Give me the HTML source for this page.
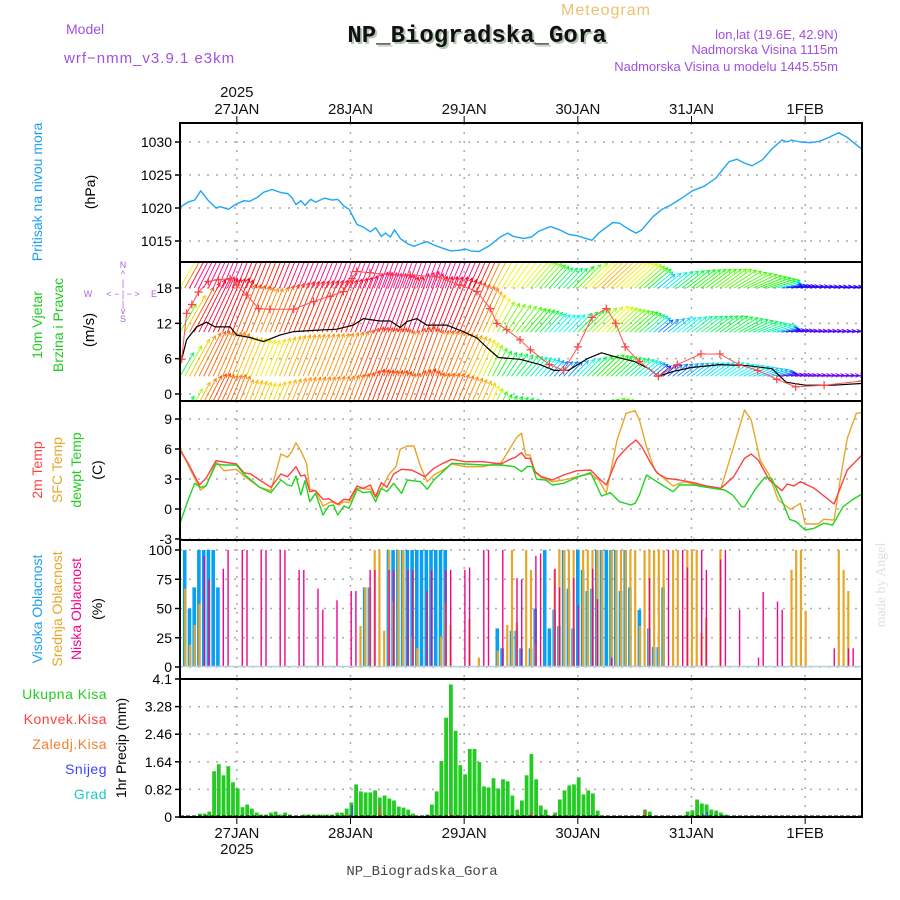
<!DOCTYPE html>
<html><head><meta charset="utf-8"><style>
html,body{margin:0;padding:0;background:#fff;}
svg{display:block;font-family:"Liberation Sans",sans-serif;}
</style></head><body>
<svg id="chart" width="900" height="900" viewBox="0 0 900 900" xmlns="http://www.w3.org/2000/svg">
<defs>
<clipPath id="clipWind"><rect x="181" y="263" width="680" height="137"/></clipPath>
<clipPath id="clipAll"><rect x="181" y="123" width="680" height="694"/></clipPath>
</defs>
<rect x="0" y="0" width="900" height="900" fill="#fff"/>
<g>
<text x="606" y="15" font-size="16" fill="#f0c070" text-anchor="middle" letter-spacing="1">Meteogram</text>
<text x="66" y="34" font-size="14" fill="#a050e0">Model</text>
<text x="64" y="63" font-size="15" fill="#a050e0" letter-spacing="1">wrf−nmm_v3.9.1 e3km</text>
<text x="479" y="44" font-size="24" font-weight="bold" font-family="Liberation Mono, monospace" fill="#b0c8b0" text-anchor="middle">NP_Biogradska_Gora</text>
<text x="477" y="42" font-size="24" font-weight="bold" font-family="Liberation Mono, monospace" fill="#111" text-anchor="middle">NP_Biogradska_Gora</text>
<text x="838" y="39" font-size="13" fill="#a050e0" text-anchor="end">lon,lat (19.6E, 42.9N)</text>
<text x="838" y="54" font-size="13" fill="#a050e0" text-anchor="end">Nadmorska Visina 1115m</text>
<text x="838" y="71" font-size="13" fill="#a050e0" text-anchor="end">Nadmorska Visina u modelu 1445.55m</text>
</g>
<g id="grid"></g>
<g id="marks" clip-path="url(#clipAll)"></g>
<g id="wind" clip-path="url(#clipWind)"></g>
<g id="frames"></g>
<g id="labels">
<text transform="translate(42,192) rotate(-90)" font-size="14" fill="#1ea0f0" text-anchor="middle">Pritisak na nivou mora</text>
<text transform="translate(95,192) rotate(-90)" font-size="14" fill="#000" text-anchor="middle">(hPa)</text>
<text transform="translate(42,325) rotate(-90)" font-size="14" fill="#22cc22" text-anchor="middle">10m Vjetar</text>
<text transform="translate(63,325) rotate(-90)" font-size="14" fill="#22cc22" text-anchor="middle">Brzina i Pravac</text>
<text transform="translate(94,330) rotate(-90)" font-size="15" fill="#000" text-anchor="middle">(m/s)</text>
<g font-size="9" fill="#b060e0" text-anchor="middle">
<text x="123" y="268">N</text><text x="123" y="277">^</text><text x="123" y="286">|</text>
<text x="88" y="297">W</text><text x="123" y="297">&lt; − | − &gt;</text><text x="154" y="297">E</text>
<text x="123" y="307">|</text><text x="123" y="314">v</text><text x="123" y="322">S</text>
</g>
<text transform="translate(42,470) rotate(-90)" font-size="14" fill="#ff4040" text-anchor="middle">2m Temp</text>
<text transform="translate(62,470) rotate(-90)" font-size="14" fill="#e8a628" text-anchor="middle">SFC Temp</text>
<text transform="translate(81,470) rotate(-90)" font-size="14" fill="#22cc22" text-anchor="middle">dewpt Temp</text>
<text transform="translate(102,470) rotate(-90)" font-size="14" fill="#000" text-anchor="middle">(C)</text>
<text transform="translate(42,609) rotate(-90)" font-size="14" fill="#1ea0f0" text-anchor="middle">Visoka Oblacnost</text>
<text transform="translate(62,609) rotate(-90)" font-size="14" fill="#e8a628" text-anchor="middle">Srednja Oblacnost</text>
<text transform="translate(81,609) rotate(-90)" font-size="14" fill="#f0068c" text-anchor="middle">Niska Oblacnost</text>
<text transform="translate(102,609) rotate(-90)" font-size="14" fill="#000" text-anchor="middle">(%)</text>
<g font-size="14" text-anchor="end" letter-spacing="0.5">
<text x="107" y="699" fill="#22cc22">Ukupna Kisa</text>
<text x="107" y="724" fill="#ff4040">Konvek.Kisa</text>
<text x="107" y="749" fill="#f08030">Zaledj.Kisa</text>
<text x="107" y="774" fill="#4040ff">Snijeg</text>
<text x="107" y="799" fill="#20c8c8">Grad</text>
</g>
<text transform="translate(126,748) rotate(-90)" font-size="14" fill="#000" text-anchor="middle">1hr Precip (mm)</text>
<text transform="translate(885,585) rotate(-90)" font-size="14" font-family="Liberation Serif, serif" fill="#d8e4d8" text-anchor="middle">made by Angel</text>
<text x="422" y="875" font-size="14" font-family="Liberation Mono, monospace" fill="#444" text-anchor="middle">NP_Biogradska_Gora</text>
</g>
</svg>
<script>
const dayLabels=["27JAN","28JAN","29JAN","30JAN","31JAN","1FEB"];
const dayHours=[12,36,60,84,108,132];
const presTicks=[1015,1020,1025,1030];
const windTicks=[0,6,12,18];
const tempTicks=[-3,0,3,6,9];
const cloudTicks=[0,25,50,75,100];
const precipTicks=[0,0.82,1.64,2.46,3.28,4.1];
const precipTickLabels=["0","0.82","1.64","2.46","3.28","4.1"];

const presHours=[0,1.7,3.1,4.4,5.9,7.6,8.5,10.2,11.9,13.5,14.7,16.3,17.7,19.4,21.5,22.7,23.6,24.5,25.5,26.4,27.6,28.6,30.5,32.1,33.3,34.6,35.7,37.4,38.7,40.2,41.3,42.5,43.4,44.4,45.3,46.5,48,49.4,50.8,52.2,53.6,55.5,57.2,59.1,60.2,61.4,63.1,65.4,67.6,69.2,70.4,72.5,74.2,75.8,78.2,80.1,82.1,83.8,87,88.4,89.5,91.4,92.8,94.7,96.3,97.5,99.9,101.8,103.5,105.5,108.2,110.7,113.1,115.9,117.6,119.2,120.8,123,124.9,127.1,128.2,129.1,131,133.1,135,136.7,139.1,140.9,142.4,144];
const presVals=[1020.1,1020.9,1021.2,1022.6,1021.2,1020,1020.2,1019.8,1020.6,1021.1,1021,1021.6,1022.4,1022.8,1022.3,1022.2,1021.6,1020.5,1021.1,1020.4,1021.3,1020.9,1021.5,1021.2,1021.3,1020.3,1019.8,1017.5,1017.1,1016.4,1017,1015.7,1016.2,1015.6,1016.7,1015.4,1014.6,1014.2,1014.6,1014.9,1014.4,1013.9,1013.5,1013.6,1013.8,1013.5,1013.4,1014.3,1015.6,1016.2,1015.7,1015.4,1015.6,1016.5,1017.2,1016.7,1016,1015.8,1015.1,1016.2,1016.8,1017.8,1017.7,1016.8,1016.2,1016.7,1018.7,1019.8,1020.4,1021.3,1022.6,1023.3,1024.5,1027,1027.4,1026.8,1026.4,1027.3,1028.9,1030.3,1030,1030.3,1030,1029.9,1030.1,1030.6,1031.4,1030.7,1029.8,1028.9];

const windHours=[0.35,1.4,3.5,5.6,7.4,10.6,12,14.8,17.6,21.1,24,28.2,33.1,36.6,38.7,42.2,44.4,46.5,47.9,50,52.1,56.3,59.8,62.7,64.8,67.2,71.8,76,79,82,86,89,92,96,99,101,104,108,114,120,125,128,132,138,144];
const windVals=[5.9,9.2,11.4,12.2,11.4,11.4,10,9.6,8.9,10,10.6,10.8,11,11.7,12.8,12.4,12.4,11.3,12.3,12.8,11.7,11.7,10.6,9.5,7.9,6.2,5.9,5.0,4.0,4.0,6.0,7.0,6.3,5.5,4.3,3.0,3.8,4.5,5.0,4.8,4.3,2.0,1.5,1.5,1.8];
const gustHours=[0.35,1.4,2.5,3.9,6,8.1,10.6,12,14.1,16.6,19,24,28.2,31.7,34.5,36.3,37.3,40.1,44.4,48.6,54.2,59.1,62.7,65.5,66.9,69,71.8,74,78,81,84,87,90,92,94,97,101,105,110,114,118,122,126,130,136,144];
const gustVals=[5.9,13.7,15.2,17.3,19.1,19.4,19.6,18.5,16.8,14.5,14.4,14.4,15.7,16.6,17.4,19.6,20.8,20.6,20.2,20.2,19.9,18.5,17.4,14.5,12,10.9,9.2,7.5,5.0,4.0,8.0,13,14.5,12,8,5.5,3.0,5.0,6.8,6.8,5.0,4.0,2.5,1.2,1.5,2.2];
const dirHours=[0,10,30,50,65,72,85,100,115,128,144];
const dirVals=[30,22,22,20,25,40,45,50,55,80,85];

const t2Hours=[0,1.7,4.1,5.5,7.6,9.3,11.9,13.5,14.9,16.8,19.2,21.3,22.7,24.5,25.5,26.4,27.4,28.6,30.2,31.4,33.3,34.6,35.7,37.4,38.7,40.2,41.3,42.5,43.7,45.1,46.8,48.9,50.3,51.7,53.6,55.5,57.4,60.2,64,67.8,69.7,70.8,72.1,73,73.9,75,76.3,78.6,81,83.8,86.7,88.4,90,92.3,94.7,96.3,97.5,99.4,100.8,102.7,105.5,108.4,111.2,114.2,116.9,119.2,120.6,122.1,124.4,127.1,128.2,129.6,131,133.9,138.1,140.9,144];
const t2Vals=[5.9,4.57,2.4,3.07,4.83,4.7,4.5,3.63,3.5,2.9,2.17,3.5,3.23,4.23,3.3,3.4,1.73,1.83,0.97,1.03,0.47,0.97,0.9,2.3,2.07,2.4,1.23,2.63,2.17,3.5,3.97,3.9,3.57,3.23,4.07,4.57,4.97,4.73,4.73,4.5,4.97,5.17,5.63,5.07,5.07,3.73,3.23,2.9,3.4,3.83,3.9,3.07,2.4,5.07,6.3,6.9,6.23,4.57,3.57,3.07,2.9,2.63,2.3,2.07,3.23,5.07,5.5,4.9,2.9,1.83,2.5,2.3,2.73,2.07,0.5,3.9,5.4];
const sfcHours=[0,1.7,4.3,5.5,7.6,9.3,11.9,13.5,16.8,19.2,21.3,22.7,23.6,24.5,25.5,26.7,27.4,28.6,30.2,31.9,33.6,34.6,35.7,37.4,40.2,41.3,42.8,44.2,45.6,46.5,48,49.4,50.8,52.2,53.6,55.5,57.4,60.2,64,67.8,69.7,71.1,72.1,73,73.9,75,76.3,78.6,81,83.8,86.7,88.4,90,92.3,94.2,96.1,97,98.5,100.3,104.1,106.5,109.3,114.2,117.1,119.2,120.6,122.5,124.4,126.3,128.9,131,132,134.8,135.9,138.1,139.5,140.9,142.8,144];
const sfcVals=[6.07,4.4,1.9,2.3,4.73,3.83,3.97,3.3,2.17,1.83,5.5,5.17,5.73,6.63,5.83,4.57,1.97,1.83,0.3,0.73,0.4,0.73,0.63,2.07,1.97,1.17,2.23,3.5,4.23,5.97,6.3,6.3,4.23,2.73,3.4,3.9,4.5,4.23,4.23,4.63,6.07,7.17,7.57,5.4,5.4,3.63,3.17,2.73,2.9,3.23,3.5,2.9,1.57,6.9,9.57,9.83,8.9,6.23,3.83,2.3,2.73,2.4,2.03,6.57,9.9,8.9,4.9,3.4,0.9,-0.03,0.57,-1.5,-1.5,-1.03,-1.1,3.23,7.07,9.57,9.63];
const dewHours=[0,1.7,3.1,4.3,5.5,7.6,9.3,11.9,13.5,16.8,19.2,21.3,22.7,23.6,24.5,25.5,26.4,27.4,28.6,30.2,31.4,32.4,33.3,34.6,35.7,37.4,38.7,40.2,41.3,42.5,43.7,45.1,46.8,48,50.8,52.2,53.6,55.5,57.4,60.2,64,67.8,70.6,72.1,73.4,74.4,75.3,77.2,78.6,81,83.8,86.7,89,90.9,92.8,95.2,96.1,97,98.5,99.9,101.8,104.1,105.5,108.4,111.2,115,116.7,118.6,119.2,121.6,123.5,124.9,127.3,128.7,130.1,132,133.9,135.9,137.8,140,141.9,144];
const dewVals=[-1.43,0.9,2.57,2.17,2.3,4.5,4.4,4.4,3.5,2.17,1.63,2.9,2.4,2.3,3.3,1.4,2.83,0.73,1.57,-0.6,0.3,0.4,-0.6,0.3,0.07,1.97,1.63,1.73,0.73,2.07,1.73,2.57,1.57,2.9,2.73,1.97,2.9,3.73,4.57,4.5,4.4,4.4,4.23,3.73,4.27,4.23,2.97,2.9,2.4,2.57,3.17,3.63,1.3,1.63,0.73,0.4,0.57,1.4,3.4,2.97,2.4,1.73,2.4,2.4,2.17,1.9,1.4,0.23,0.23,2.07,3.17,3.07,0.63,-1.03,-1.27,-2.1,-1.93,-1.43,-1.6,0.23,0.9,1.5];

const highHours=[1,2,3,4,5,6,7,8,39,40,44,45,46,47,48,49,50,51,52,53,54,55,56,67,68,70,71,72,74,75,77,78,79,80,81,82,83,84,85,86,87,88,89,90,91,92,93,94,95,97,99,100,101,102];
const highVals=[100,50,68,100,100,100,100,68,68,68,100,100,100,100,100,100,100,100,100,100,100,100,100,33,16,31,31,16,16,50,100,33,49,35,100,67,33,100,83,65,67,100,100,100,100,100,65,100,68,49,33,17,17,68];
const midHours=[1,2,3,4,38,39,40,41,42,43,44,45,46,47,49,50,55,56,57,61,63,67,69,70,71,73,74,75,79,80,81,82,83,85,86,87,88,89,91,92,93,94,95,96,97,98,99,100,101,102,104,105,107,108,109,110,111,114,129,130,131,132,139,140,141];
const midVals=[67,19,36,54,35,68,68,100,100,31,100,56,100,100,26,16,26,55,36,41,8,14,36,100,38,100,83,20,83,100,100,100,100,100,100,100,100,100,100,100,100,100,100,100,35,100,100,100,100,100,100,100,100,100,100,29,42,100,83,100,100,48,100,83,65];
const lowHours=[5,6,9,10,13,14,17,18,21,22,25,26,29,30,33,36,37,40,41,44,45,48,49,52,53,56,57,60,61,64,65,68,71,72,75,76,79,80,83,84,87,88,91,99,103,106,107,110,111,114,115,118,122,123,126,127,138,141,142];
const lowVals=[95,75,84,100,100,100,100,100,100,100,83,83,67,49,57,65,65,83,83,83,83,83,83,65,83,83,83,83,85,100,100,100,76,75,95,97,84,68,76,53,84,58,8,76,100,100,85,100,83,92,100,49,8,64,56,49,16,16,16];

const precipVals=[0,0,0,0,0.1,0.1,0.16,1.36,1.57,1.24,1.51,1.03,0.85,0.29,0.37,0.25,0.13,0.07,0.07,0.13,0.16,0.07,0.13,0.07,0,0,0.07,0.07,0.07,0.07,0.07,0.07,0.07,0.13,0.13,0.25,0.43,0.97,0.76,0.73,0.73,0.79,0.58,0.64,0.55,0.49,0.31,0.28,0.22,0.1,0.04,0,0.07,0.37,0.76,1.66,2.95,3.94,2.56,1.54,1.27,2.02,2.02,1.63,0.91,0.88,1.15,0.85,1.12,1.06,0.64,0.22,0.49,1.24,1.87,1.12,0.34,0.22,0.04,0.13,0.52,0.79,0.94,0.97,1.18,0.67,0.79,0.7,0.19,0,0.04,0,0,0,0,0,0,0,0.22,0.16,0,0,0,0,0,0,0.04,0.16,0.2,0.52,0.4,0.37,0.22,0.19,0.13,0.07,0,0,0,0,0,0,0,0,0,0,0,0,0,0,0,0,0,0,0,0,0,0,0,0,0,0,0,0];
const convHours=[35,42,56,57,74,98];
const convVals=[0.05,0.3,0.05,0.1,0.15,0.2];
const snowHours=[36,109,110,111];
const snowVals=[0.35,0.05,0.1,0.15];

const NS="http://www.w3.org/2000/svg";
const X0=180,X1=862,HMAX=144;
const xS=h=>X0+h*(X1-X0)/HMAX;
const yP=v=>142+(1030-v)*6.6;
const yW=v=>394-v*5.889;
const yT=v=>539-(v+3)*10;
const yC=v=>667-v*1.17;
const yR=v=>817-v*(138/4.1);
function mk(tag,attrs,parent){const e=document.createElementNS(NS,tag);for(const k in attrs)e.setAttribute(k,attrs[k]);parent.appendChild(e);return e;}
const grid=document.getElementById('grid'),marks=document.getElementById('marks'),wind=document.getElementById('wind'),frames=document.getElementById('frames'),labels=document.getElementById('labels');
const panels=[{top:123,bot:262,ticks:presTicks,y:yP,lab:presTicks.map(String),n:'pressure'},
{top:262,bot:401,ticks:windTicks,y:yW,lab:windTicks.map(String),n:'wind'},
{top:401,bot:540,ticks:tempTicks,y:yT,lab:tempTicks.map(String),n:'temp'},
{top:540,bot:679,ticks:cloudTicks,y:yC,lab:cloudTicks.map(String),n:'cloud'},
{top:679,bot:817,ticks:precipTicks,y:yR,lab:precipTickLabels,n:'precip'}];
panels.forEach(p=>{
  dayHours.forEach(h=>{const l=mk('line',{x1:xS(h),x2:xS(h),y1:p.top,y2:p.bot,stroke:'#aaa','stroke-width':1.5,'stroke-dasharray':'2,7'},grid);
    
    });
  p.ticks.forEach((t,i)=>{const y=p.y(t);
    const g=mk('line',{x1:X0,x2:X1,y1:y,y2:y,stroke:'#aaa','stroke-width':1.5,'stroke-dasharray':'2,7'},grid);
    
    
    mk('line',{x1:X0-5,x2:X0,y1:y,y2:y,stroke:'#000','stroke-width':1.5},frames);
    const tx=mk('text',{x:X0-8,y:y+5,'font-size':14,'text-anchor':'end',fill:'#000'},labels);
    tx.textContent=p.lab[i];
    
    });
  const f=mk('rect',{x:X0,y:p.top,width:X1-X0,height:p.bot-p.top,fill:'none',stroke:'#000','stroke-width':2},frames);
  
  
});
dayHours.forEach((h,i)=>{
  mk('line',{x1:xS(h),x2:xS(h),y1:116,y2:123,stroke:'#000','stroke-width':1},frames);
  mk('line',{x1:xS(h),x2:xS(h),y1:817,y2:824,stroke:'#000','stroke-width':1},frames);
  const t=mk('text',{x:xS(h),y:114,'font-size':15,'text-anchor':'middle',fill:'#111'},labels);t.textContent=dayLabels[i];
  
  
  const b=mk('text',{x:xS(h),y:838,'font-size':15,'text-anchor':'middle',fill:'#111'},labels);b.textContent=dayLabels[i];
  
  
});
[[97],[854]].forEach(a=>{const t=mk('text',{x:xS(dayHours[0]),y:a[0],'font-size':15,'text-anchor':'middle',fill:'#111'},labels);t.textContent='2025';
  
  });

function poly(hs,vs,yf,color,w,name,parent){
  const pts=hs.map((h,i)=>xS(h).toFixed(1)+','+yf(vs[i]).toFixed(1)).join(' ');
  const p=mk('polyline',{points:pts,fill:'none',stroke:color,'stroke-width':w,'stroke-linejoin':'round'},parent||marks);
  
  
  return p;
}
poly(presHours,presVals,yP,'#1ea7f5',1.4,'pressure-line');
poly(sfcHours,sfcVals,yT,'#e8a628',1.4,'sfc-temp-line');
poly(t2Hours,t2Vals,yT,'#ff4040',1.4,'2m-temp-line');
poly(dewHours,dewVals,yT,'#22d422',1.4,'dewpoint-line');

function interp(hs,vs,h){if(h<=hs[0])return vs[0];for(let i=1;i<hs.length;i++){if(h<=hs[i]){const f=(h-hs[i-1])/(hs[i]-hs[i-1]);return vs[i-1]+f*(vs[i]-vs[i-1]);}}return vs[vs.length-1];}
function spdColor(s){const stops=[[0,280],[2,265],[4,230],[6,185],[8,125],[11,60],[14,32],[17,5],[20,-30],[40,-40]];
  let hue=-40;for(let i=1;i<stops.length;i++){if(s<=stops[i][0]){const f=(s-stops[i-1][0])/(stops[i][0]-stops[i-1][0]);hue=stops[i-1][1]+f*(stops[i][1]-stops[i-1][1]);break;}}
  hue=(hue+360)%360;
  return 'hsl('+hue.toFixed(0)+',95%,50%)';}
const rows=[{base:-4.5,f:1.3},{base:3,f:1.25},{base:10.5,f:1.55},{base:18,f:1.85}];
for(let h=0;h<=HMAX;h+=1){
  const s=interp(windHours,windVals,h),d=interp(dirHours,dirVals,h)*Math.PI/180;
  rows.forEach(r=>{const sp=s*r.f,L=Math.min(sp*3,60)+5;
    const x0=xS(h),y0=yW(r.base),x1=x0+L*Math.sin(d),y1=y0-L*Math.cos(d);
    const ang=Math.atan2(y1-y0,x1-x0);
    const hx1=x1-4*Math.cos(ang-0.5),hy1=y1-4*Math.sin(ang-0.5),hx2=x1-4*Math.cos(ang+0.5),hy2=y1-4*Math.sin(ang+0.5);
    const p=mk('path',{d:`M${x0.toFixed(1)},${y0.toFixed(1)}L${x1.toFixed(1)},${y1.toFixed(1)}M${hx1.toFixed(1)},${hy1.toFixed(1)}L${x1.toFixed(1)},${y1.toFixed(1)}L${hx2.toFixed(1)},${hy2.toFixed(1)}`,stroke:spdColor(sp),'stroke-width':0.9,fill:'none'},wind);
    
    });
}
poly(windHours,windVals,yW,'#000',1.2,'wind-speed-line',wind);
poly(gustHours,gustVals,yW,'#ff5050',1,'wind-gust-line',wind);
gustHours.forEach((h,i)=>{const x=xS(h),y=yW(gustVals[i]);
  const p=mk('path',{d:`M${x-4},${y}L${x+4},${y}M${x},${y-4}L${x},${y+4}`,stroke:'#ff4040','stroke-width':1.2},wind);
  
  });

function bars(hs,vs,yf,color,w,off,name){hs.forEach((h,i)=>{const x=xS(h)+off,y=yf(vs[i]),y0=yf(0);
  const r=mk('rect',{x:x.toFixed(1),y:y.toFixed(1),width:w,height:Math.max(0,y0-y).toFixed(1),fill:color},marks);
  
  });}
bars(highHours,highVals,yC,'#08a0f2',3.6,-1.8,'high-cloud-bar');
bars(midHours,midVals,yC,'#e8a628',2.2,-0.6,'mid-cloud-bar');
bars(lowHours,lowVals,yC,'#f0068c',1.4,0,'low-cloud-bar');
mk('line',{x1:X0,x2:X1,y1:yC(0)-0.5,y2:yC(0)-0.5,stroke:'#b8d0d8','stroke-width':1.5},marks);
bars(precipVals.map((v,i)=>i),precipVals,yR,'#22cc22',3.8,-1,'precip-bar');
bars(convHours,convVals,yR,'#ff4040',1.5,0.2,'convective-bar');
bars(snowHours,snowVals,yR,'#3838ff',1.2,1,'snow-bar');
mk('line',{x1:X0,x2:X1,y1:816,y2:816,stroke:'#000','stroke-width':1,'stroke-dasharray':'4,2'},marks);
</script>
</body></html>
